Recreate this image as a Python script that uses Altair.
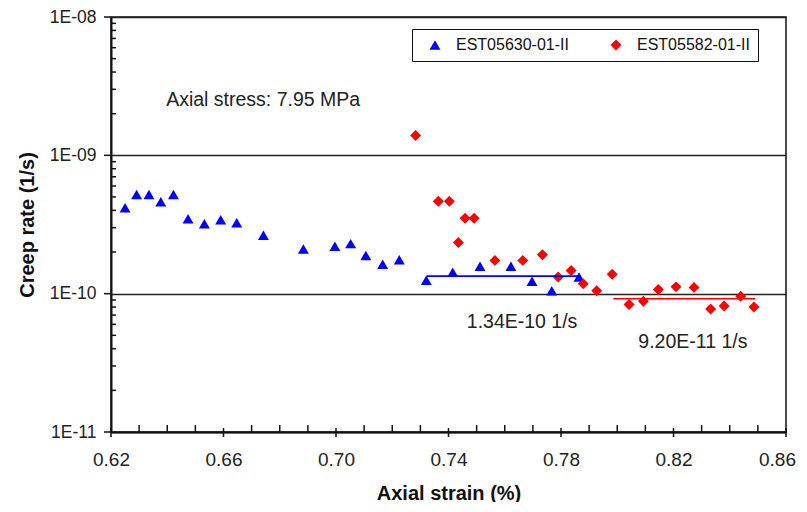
import altair as alt
import pandas as pd

blue_name = "EST05630-01-II"
red_name = "EST05582-01-II"

blue_strain = [0.6250, 0.6291, 0.6335, 0.6377, 0.6422, 0.6474, 0.6532, 0.6590, 0.6647, 0.6742, 0.6884,
               0.6996, 0.7052, 0.7106, 0.7166, 0.7225, 0.7321, 0.7415, 0.7512, 0.7622, 0.7697, 0.7767, 0.7864]
blue_rate = [4.18e-10, 5.21e-10, 5.21e-10, 4.61e-10, 5.21e-10, 3.48e-10, 3.20e-10, 3.42e-10, 3.26e-10,
             2.64e-10, 2.10e-10, 2.20e-10, 2.30e-10, 1.89e-10, 1.63e-10, 1.76e-10, 1.25e-10, 1.43e-10,
             1.58e-10, 1.58e-10, 1.23e-10, 1.05e-10, 1.32e-10]
red_strain = [0.7283, 0.7364, 0.7403, 0.7435, 0.7459, 0.7491, 0.7565, 0.7664, 0.7734, 0.7790, 0.7836,
              0.7879, 0.7927, 0.7982, 0.8042, 0.8093, 0.8146, 0.8209, 0.8273, 0.8332, 0.8380, 0.8439, 0.8486]
red_rate = [1.39e-9, 4.66e-10, 4.66e-10, 2.34e-10, 3.51e-10, 3.51e-10, 1.74e-10, 1.74e-10, 1.91e-10,
            1.32e-10, 1.47e-10, 1.18e-10, 1.05e-10, 1.38e-10, 8.34e-11, 8.82e-11, 1.07e-10, 1.12e-10,
            1.11e-10, 7.76e-11, 8.15e-11, 9.58e-11, 8.02e-11]

fit_series = [blue_name, red_name]
fit_rate = [1.34e-10, 9.20e-11]
fit_start = [0.7322, 0.7986]
fit_end = [0.7864, 0.8490]

note_text = ["Axial stress: 7.95 MPa", "1.34E-10 1/s", "9.20E-11 1/s"]
note_x = [0.6396, 0.7465, 0.8075]
note_y = [2.50e-9, 6.25e-11, 4.44e-11]

x_major = [0.62, 0.66, 0.70, 0.74, 0.78, 0.82, 0.86]
x_minor = [0.63, 0.64, 0.65, 0.67, 0.68, 0.69, 0.71, 0.72, 0.73, 0.75, 0.76, 0.77,
           0.79, 0.80, 0.81, 0.83, 0.84, 0.85]
y_major = [1e-11, 1e-10, 1e-9, 1e-8]
y_minor = [k * 10.0 ** e for e in (-11, -10, -9) for k in range(2, 10)]

X_MIN, X_MAX = 0.62, 0.86
Y_MIN, Y_MAX = 1e-11, 1e-8

FONT = "Liberation Sans"
INK = "#111111"
W, H = 675, 415

pts = pd.DataFrame({
    "strain": blue_strain + red_strain,
    "rate": blue_rate + red_rate,
    "series": [blue_name] * len(blue_strain) + [red_name] * len(red_strain),
})
fits = pd.DataFrame({"series": fit_series, "rate": fit_rate, "start": fit_start, "end": fit_end})
notes = pd.DataFrame({"label": note_text, "x": note_x, "y": note_y})

# tick-mark lengths expressed in data units (pixels -> data through the plot size)
x_per_px = (X_MAX - X_MIN) / W
dec_per_px = 3.0 / H


def y_shift(v, px):
    return v * 10 ** (px * dec_per_px)


x_major_df = pd.DataFrame({"x": x_major, "x2": x_major,
                           "y": [y_shift(Y_MIN, 4)] * len(x_major),
                           "y2": [y_shift(Y_MIN, -5)] * len(x_major)})
x_minor_df = pd.DataFrame({"x": x_minor, "x2": x_minor,
                           "y": [y_shift(Y_MIN, 7)] * len(x_minor),
                           "y2": [Y_MIN] * len(x_minor)})
y_major_df = pd.DataFrame({"y": y_major, "y2": y_major,
                           "x": [X_MIN - 7 * x_per_px] * len(y_major),
                           "x2": [X_MIN] * len(y_major)})
y_minor_df = pd.DataFrame({"y": y_minor, "y2": y_minor,
                           "x": [X_MIN] * len(y_minor),
                           "x2": [X_MIN + 5 * x_per_px] * len(y_minor)})
ticks_df = pd.concat([x_major_df, x_minor_df, y_major_df, y_minor_df], ignore_index=True)

x_scale = alt.Scale(domain=[X_MIN, X_MAX], nice=False, zero=False)
y_scale = alt.Scale(type="log", domain=[Y_MIN, Y_MAX], nice=False)
color_scale = alt.Scale(domain=[blue_name, red_name], range=["#0000ff", "#ff0000"])
shape_scale = alt.Scale(domain=[blue_name, red_name], range=["triangle-up", "diamond"])

y_label_expr = ("'1E-' + (abs(round(log(datum.value)/LN10)) < 10 ? '0' : '') + "
                "abs(round(log(datum.value)/LN10))")
legend_label_expr = "datum.label == '" + red_name + "' ? datum.label + '\u00a0\u00a0\u00a0\u00a0\u00a0' : datum.label"

legend = alt.Legend(orient="none", legendX=301, legendY=12, direction="horizontal", columns=2,
                    labelExpr=legend_label_expr)

points = alt.Chart(pts).mark_point(filled=True, opacity=1, size=120).encode(
    x=alt.X("strain:Q", scale=x_scale, title="Axial strain (%)",
            axis=alt.Axis(orient="bottom", values=x_major, format=".2f", ticks=False,
                          labelPadding=18, labelFontSize=19, titlePadding=14, grid=False,
                          labelFlush=False,
                          labelOffset={"condition": {"test": "datum.value > 0.855", "value": -9},
                                       "value": 0})),
    y=alt.Y("rate:Q", scale=y_scale, title="Creep rate (1/s)",
            axis=alt.Axis(orient="left", values=y_major, labelExpr=y_label_expr, ticks=False,
                          labelPadding=15, labelFontSize=17.5, titlePadding=12, grid=True,
                          gridColor="#222222", gridWidth=1.5, gridOpacity=1, labelFlush=False)),
    color=alt.Color("series:N", scale=color_scale, title=None, legend=legend),
    shape=alt.Shape("series:N", scale=shape_scale, title=None, legend=legend),
)

lines = alt.Chart(fits).mark_rule(strokeWidth=1.6).encode(
    x=alt.X("start:Q", scale=x_scale, axis=None),
    x2="end:Q",
    y=alt.Y("rate:Q", scale=y_scale, axis=None),
    color=alt.Color("series:N", scale=color_scale, legend=None),
)

texts = alt.Chart(notes).mark_text(align="left", baseline="middle", fontSize=19.5, font=FONT,
                                   color="#222222").encode(
    x=alt.X("x:Q", scale=x_scale, axis=None),
    y=alt.Y("y:Q", scale=y_scale, axis=None),
    text="label:N",
)

ticks = alt.Chart(ticks_df).mark_rule(color=INK, strokeWidth=1.5).encode(
    x=alt.X("x:Q", scale=x_scale, axis=None),
    x2="x2:Q",
    y=alt.Y("y:Q", scale=y_scale, axis=None),
    y2="y2:Q",
)

chart = alt.layer(points, lines, texts, ticks).resolve_axis(
    x="independent", y="independent"
).properties(
    width=W, height=H,
    autosize=alt.AutoSizeParams(type="none"),
    padding={"left": 103, "top": 9, "right": 10, "bottom": 70},
).configure_axis(
    domainColor=INK, domainWidth=2,
    labelFont=FONT, labelColor="#222222", titleFont=FONT, titleFontSize=20,
    titleFontWeight="bold", titleColor=INK,
).configure_view(
    stroke=INK, strokeWidth=1.5,
).configure_legend(
    strokeColor=INK, fillColor="white", padding=8, labelFont=FONT, labelFontSize=16,
    labelColor=INK, symbolSize=120, labelOffset=13, columnPadding=32, symbolOffset=7,
    symbolStrokeWidth=0,
)

chart.save("out.html", embed_options={"renderer": "svg", "actions": False})
